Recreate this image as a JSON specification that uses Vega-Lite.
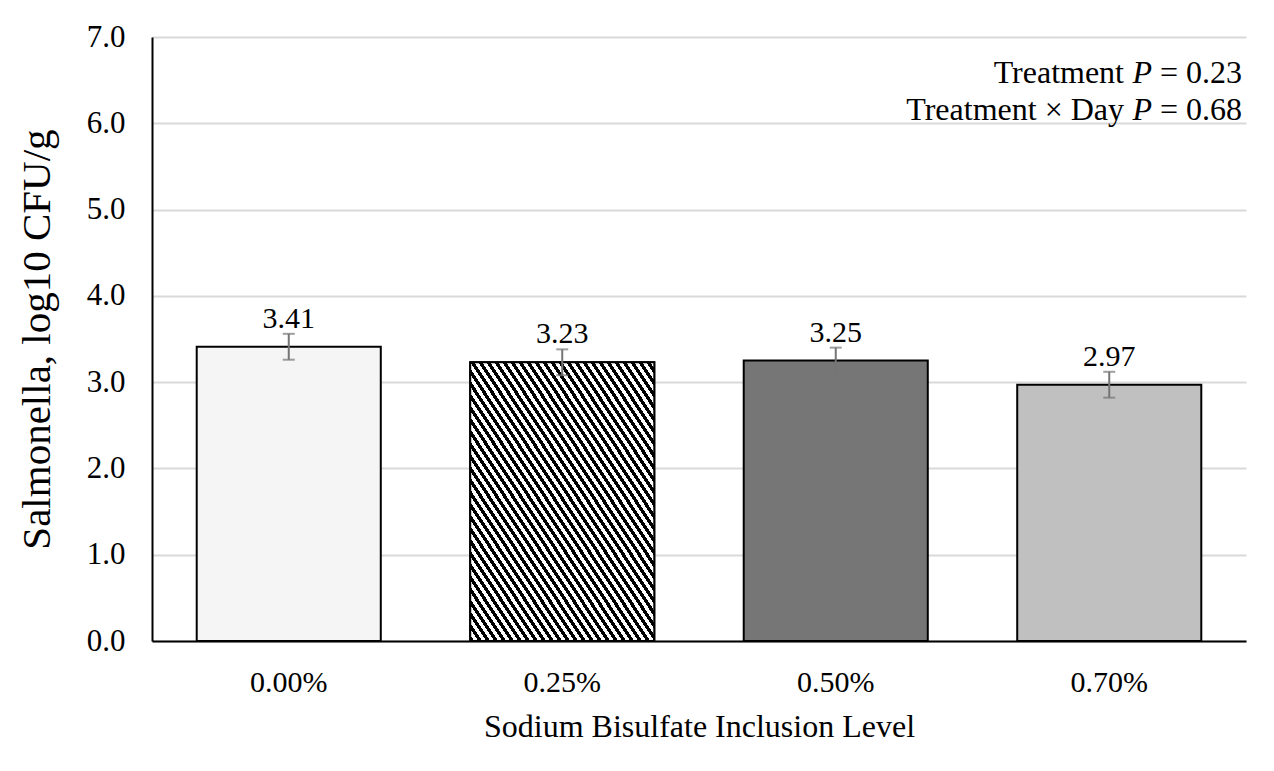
{
  "$schema": "https://vega.github.io/schema/vega-lite/v6.json",
  "width": 1094,
  "height": 604,
  "autosize": {"type": "none"},
  "padding": {"left": 152, "top": 37, "right": 28, "bottom": 130},
  "background": "white",
  "config": {
    "font": "Liberation Serif",
    "view": {"stroke": null},
    "axis": {
      "labelFont": "Liberation Serif",
      "titleFont": "Liberation Serif",
      "labelColor": "black",
      "titleColor": "black",
      "titleFontWeight": "normal",
      "labelFontSize": 30,
      "titleFontSize": 32,
      "ticks": false,
      "tickSize": 0,
      "domainColor": "black",
      "domainWidth": 2
    }
  },
  "data": {
    "values": [
      {"level": "0.00%", "mean": 3.41, "lo": 3.26, "hi": 3.56, "label": "3.41"},
      {"level": "0.25%", "mean": 3.23, "lo": 3.08, "hi": 3.38, "label": "3.23"},
      {"level": "0.50%", "mean": 3.25, "lo": 3.10, "hi": 3.40, "label": "3.25"},
      {"level": "0.70%", "mean": 2.97, "lo": 2.82, "hi": 3.12, "label": "2.97"}
    ]
  },
  "encoding": {
    "x": {
      "field": "level",
      "type": "nominal",
      "sort": null,
      "scale": {"paddingInner": 0.327, "paddingOuter": 0.1635},
      "axis": {
        "title": "Sodium Bisulfate Inclusion Level",
        "labelAngle": 0,
        "labelPadding": 26,
        "titlePadding": 14,
        "grid": false
      }
    }
  },
  "layer": [
    {
      "mark": {"type": "bar", "stroke": "black", "strokeWidth": 2},
      "encoding": {
        "y": {
          "field": "mean",
          "type": "quantitative",
          "scale": {"domain": [0, 7], "nice": false},
          "axis": {
            "title": "Salmonella, log10 CFU/g",
            "titleFontSize": 41,
            "values": [0, 1, 2, 3, 4, 5, 6, 7],
            "format": ".1f",
            "labelFontSize": 31,
            "labelPadding": 27,
            "titlePadding": 28,
            "grid": true,
            "gridColor": "#d9d9d9",
            "gridWidth": 2
          }
        },
        "color": {
          "field": "level",
          "type": "nominal",
          "sort": null,
          "scale": {"range": ["#f5f5f5", "#8c8c8c", "#767676", "#c0c0c0"]},
          "legend": null
        }
      }
    },
    {
      "transform": [{"filter": "datum.level === '0.25%'"}],
      "mark": {
        "type": "bar",
        "stroke": "black",
        "strokeWidth": 2,
        "fill": {
          "gradient": "linear",
          "x1": 0, "y1": 1, "x2": 1, "y2": 0,
          "stops": [
            {"offset": 0, "color": "black"}, {"offset": 0.01087, "color": "black"}, {"offset": 0.01087, "color": "white"}, {"offset": 0.02174, "color": "white"},
            {"offset": 0.02174, "color": "black"}, {"offset": 0.03261, "color": "black"}, {"offset": 0.03261, "color": "white"}, {"offset": 0.04348, "color": "white"},
            {"offset": 0.04348, "color": "black"}, {"offset": 0.05435, "color": "black"}, {"offset": 0.05435, "color": "white"}, {"offset": 0.06522, "color": "white"},
            {"offset": 0.06522, "color": "black"}, {"offset": 0.07609, "color": "black"}, {"offset": 0.07609, "color": "white"}, {"offset": 0.08696, "color": "white"},
            {"offset": 0.08696, "color": "black"}, {"offset": 0.09783, "color": "black"}, {"offset": 0.09783, "color": "white"}, {"offset": 0.1087, "color": "white"},
            {"offset": 0.1087, "color": "black"}, {"offset": 0.11957, "color": "black"}, {"offset": 0.11957, "color": "white"}, {"offset": 0.13043, "color": "white"},
            {"offset": 0.13043, "color": "black"}, {"offset": 0.1413, "color": "black"}, {"offset": 0.1413, "color": "white"}, {"offset": 0.15217, "color": "white"},
            {"offset": 0.15217, "color": "black"}, {"offset": 0.16304, "color": "black"}, {"offset": 0.16304, "color": "white"}, {"offset": 0.17391, "color": "white"},
            {"offset": 0.17391, "color": "black"}, {"offset": 0.18478, "color": "black"}, {"offset": 0.18478, "color": "white"}, {"offset": 0.19565, "color": "white"},
            {"offset": 0.19565, "color": "black"}, {"offset": 0.20652, "color": "black"}, {"offset": 0.20652, "color": "white"}, {"offset": 0.21739, "color": "white"},
            {"offset": 0.21739, "color": "black"}, {"offset": 0.22826, "color": "black"}, {"offset": 0.22826, "color": "white"}, {"offset": 0.23913, "color": "white"},
            {"offset": 0.23913, "color": "black"}, {"offset": 0.25, "color": "black"}, {"offset": 0.25, "color": "white"}, {"offset": 0.26087, "color": "white"},
            {"offset": 0.26087, "color": "black"}, {"offset": 0.27174, "color": "black"}, {"offset": 0.27174, "color": "white"}, {"offset": 0.28261, "color": "white"},
            {"offset": 0.28261, "color": "black"}, {"offset": 0.29348, "color": "black"}, {"offset": 0.29348, "color": "white"}, {"offset": 0.30435, "color": "white"},
            {"offset": 0.30435, "color": "black"}, {"offset": 0.31522, "color": "black"}, {"offset": 0.31522, "color": "white"}, {"offset": 0.32609, "color": "white"},
            {"offset": 0.32609, "color": "black"}, {"offset": 0.33696, "color": "black"}, {"offset": 0.33696, "color": "white"}, {"offset": 0.34783, "color": "white"},
            {"offset": 0.34783, "color": "black"}, {"offset": 0.3587, "color": "black"}, {"offset": 0.3587, "color": "white"}, {"offset": 0.36957, "color": "white"},
            {"offset": 0.36957, "color": "black"}, {"offset": 0.38043, "color": "black"}, {"offset": 0.38043, "color": "white"}, {"offset": 0.3913, "color": "white"},
            {"offset": 0.3913, "color": "black"}, {"offset": 0.40217, "color": "black"}, {"offset": 0.40217, "color": "white"}, {"offset": 0.41304, "color": "white"},
            {"offset": 0.41304, "color": "black"}, {"offset": 0.42391, "color": "black"}, {"offset": 0.42391, "color": "white"}, {"offset": 0.43478, "color": "white"},
            {"offset": 0.43478, "color": "black"}, {"offset": 0.44565, "color": "black"}, {"offset": 0.44565, "color": "white"}, {"offset": 0.45652, "color": "white"},
            {"offset": 0.45652, "color": "black"}, {"offset": 0.46739, "color": "black"}, {"offset": 0.46739, "color": "white"}, {"offset": 0.47826, "color": "white"},
            {"offset": 0.47826, "color": "black"}, {"offset": 0.48913, "color": "black"}, {"offset": 0.48913, "color": "white"}, {"offset": 0.5, "color": "white"},
            {"offset": 0.5, "color": "black"}, {"offset": 0.51087, "color": "black"}, {"offset": 0.51087, "color": "white"}, {"offset": 0.52174, "color": "white"},
            {"offset": 0.52174, "color": "black"}, {"offset": 0.53261, "color": "black"}, {"offset": 0.53261, "color": "white"}, {"offset": 0.54348, "color": "white"},
            {"offset": 0.54348, "color": "black"}, {"offset": 0.55435, "color": "black"}, {"offset": 0.55435, "color": "white"}, {"offset": 0.56522, "color": "white"},
            {"offset": 0.56522, "color": "black"}, {"offset": 0.57609, "color": "black"}, {"offset": 0.57609, "color": "white"}, {"offset": 0.58696, "color": "white"},
            {"offset": 0.58696, "color": "black"}, {"offset": 0.59783, "color": "black"}, {"offset": 0.59783, "color": "white"}, {"offset": 0.6087, "color": "white"},
            {"offset": 0.6087, "color": "black"}, {"offset": 0.61957, "color": "black"}, {"offset": 0.61957, "color": "white"}, {"offset": 0.63043, "color": "white"},
            {"offset": 0.63043, "color": "black"}, {"offset": 0.6413, "color": "black"}, {"offset": 0.6413, "color": "white"}, {"offset": 0.65217, "color": "white"},
            {"offset": 0.65217, "color": "black"}, {"offset": 0.66304, "color": "black"}, {"offset": 0.66304, "color": "white"}, {"offset": 0.67391, "color": "white"},
            {"offset": 0.67391, "color": "black"}, {"offset": 0.68478, "color": "black"}, {"offset": 0.68478, "color": "white"}, {"offset": 0.69565, "color": "white"},
            {"offset": 0.69565, "color": "black"}, {"offset": 0.70652, "color": "black"}, {"offset": 0.70652, "color": "white"}, {"offset": 0.71739, "color": "white"},
            {"offset": 0.71739, "color": "black"}, {"offset": 0.72826, "color": "black"}, {"offset": 0.72826, "color": "white"}, {"offset": 0.73913, "color": "white"},
            {"offset": 0.73913, "color": "black"}, {"offset": 0.75, "color": "black"}, {"offset": 0.75, "color": "white"}, {"offset": 0.76087, "color": "white"},
            {"offset": 0.76087, "color": "black"}, {"offset": 0.77174, "color": "black"}, {"offset": 0.77174, "color": "white"}, {"offset": 0.78261, "color": "white"},
            {"offset": 0.78261, "color": "black"}, {"offset": 0.79348, "color": "black"}, {"offset": 0.79348, "color": "white"}, {"offset": 0.80435, "color": "white"},
            {"offset": 0.80435, "color": "black"}, {"offset": 0.81522, "color": "black"}, {"offset": 0.81522, "color": "white"}, {"offset": 0.82609, "color": "white"},
            {"offset": 0.82609, "color": "black"}, {"offset": 0.83696, "color": "black"}, {"offset": 0.83696, "color": "white"}, {"offset": 0.84783, "color": "white"},
            {"offset": 0.84783, "color": "black"}, {"offset": 0.8587, "color": "black"}, {"offset": 0.8587, "color": "white"}, {"offset": 0.86957, "color": "white"},
            {"offset": 0.86957, "color": "black"}, {"offset": 0.88043, "color": "black"}, {"offset": 0.88043, "color": "white"}, {"offset": 0.8913, "color": "white"},
            {"offset": 0.8913, "color": "black"}, {"offset": 0.90217, "color": "black"}, {"offset": 0.90217, "color": "white"}, {"offset": 0.91304, "color": "white"},
            {"offset": 0.91304, "color": "black"}, {"offset": 0.92391, "color": "black"}, {"offset": 0.92391, "color": "white"}, {"offset": 0.93478, "color": "white"},
            {"offset": 0.93478, "color": "black"}, {"offset": 0.94565, "color": "black"}, {"offset": 0.94565, "color": "white"}, {"offset": 0.95652, "color": "white"},
            {"offset": 0.95652, "color": "black"}, {"offset": 0.96739, "color": "black"}, {"offset": 0.96739, "color": "white"}, {"offset": 0.97826, "color": "white"},
            {"offset": 0.97826, "color": "black"}, {"offset": 0.98913, "color": "black"}, {"offset": 0.98913, "color": "white"}, {"offset": 1, "color": "white"}
          ]
        }
      },
      "encoding": {
        "y": {"field": "mean", "type": "quantitative"}
      }
    },
    {
      "mark": {"type": "rule", "color": "#757575", "strokeWidth": 2},
      "encoding": {
        "y": {"field": "lo", "type": "quantitative"},
        "y2": {"field": "hi"}
      }
    },
    {
      "mark": {"type": "tick", "color": "#757575", "size": 12, "thickness": 2},
      "encoding": {
        "y": {"field": "lo", "type": "quantitative"}
      }
    },
    {
      "mark": {"type": "tick", "color": "#757575", "size": 12, "thickness": 2},
      "encoding": {
        "y": {"field": "hi", "type": "quantitative"}
      }
    },
    {
      "mark": {"type": "text", "fontSize": 30, "font": "Liberation Serif", "color": "black", "baseline": "alphabetic", "dy": -6},
      "encoding": {
        "y": {"field": "hi", "type": "quantitative"},
        "text": {"field": "label"}
      }
    },
    {
      "data": {
        "values": [
          {"note": "= 0.23", "pos": 6.47},
          {"note": "= 0.68", "pos": 6.04}
        ]
      },
      "mark": {"type": "text", "fontSize": 32, "font": "Liberation Serif", "color": "black", "align": "right", "baseline": "alphabetic", "dx": -4},
      "encoding": {
        "x": {"value": "width"},
        "y": {"field": "pos", "type": "quantitative"},
        "text": {"field": "note"}
      }
    },
    {
      "data": {
        "values": [
          {"note": "P", "pos": 6.47},
          {"note": "P", "pos": 6.04}
        ]
      },
      "mark": {"type": "text", "fontSize": 32, "font": "Liberation Serif", "fontStyle": "italic", "color": "black", "align": "right", "baseline": "alphabetic", "dx": -94},
      "encoding": {
        "x": {"value": "width"},
        "y": {"field": "pos", "type": "quantitative"},
        "text": {"field": "note"}
      }
    },
    {
      "data": {
        "values": [
          {"note": "Treatment", "pos": 6.47},
          {"note": "Treatment × Day", "pos": 6.04}
        ]
      },
      "mark": {"type": "text", "fontSize": 32, "font": "Liberation Serif", "color": "black", "align": "right", "baseline": "alphabetic", "dx": -122},
      "encoding": {
        "x": {"value": "width"},
        "y": {"field": "pos", "type": "quantitative"},
        "text": {"field": "note"}
      }
    }
  ]
}
